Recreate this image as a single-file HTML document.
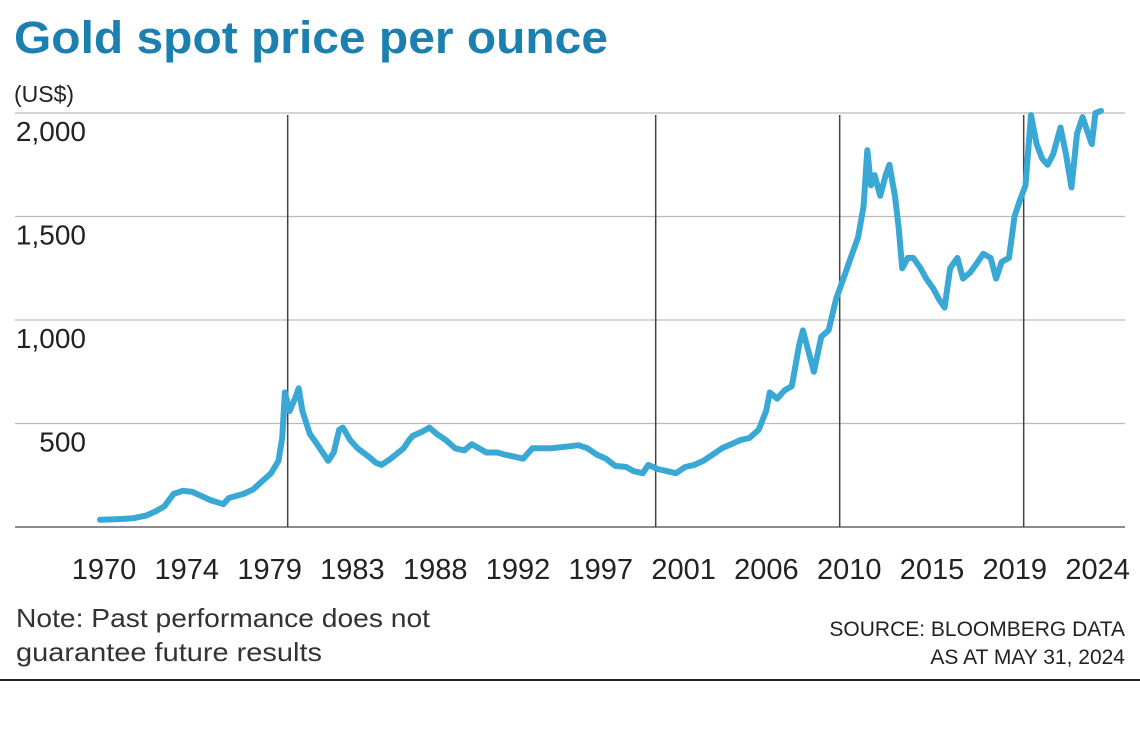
<!DOCTYPE html>
<html><head><meta charset="utf-8"><style>
body{margin:0;background:#fff;width:1140px;height:744px;overflow:hidden;font-family:"Liberation Sans",sans-serif}
svg text{font-family:"Liberation Sans",sans-serif}
</style></head><body>
<svg id="chart" width="1140" height="744" viewBox="0 0 1140 744">
<text x="14" y="53" font-size="45" font-weight="bold" fill="#1b7fb0" textLength="594" lengthAdjust="spacingAndGlyphs">Gold spot price per ounce</text>
<text x="14" y="102" font-size="23" fill="#222">(US$)</text>
<g id="grid"></g><g id="vlines"></g><g id="series"></g><g id="xt"></g><g id="yt"></g>
<text x="16" y="627" font-size="26" fill="#333" textLength="414" lengthAdjust="spacingAndGlyphs">Note: Past performance does not</text>
<text x="16" y="661" font-size="26" fill="#333" textLength="306" lengthAdjust="spacingAndGlyphs">guarantee future results</text>
<text x="1125" y="636" font-size="21" fill="#222" text-anchor="end">SOURCE: BLOOMBERG DATA</text>
<text x="1125" y="664" font-size="21" fill="#222" text-anchor="end">AS AT MAY 31, 2024</text>
<line x1="0" y1="680" x2="1140" y2="680" stroke="#222" stroke-width="2"/>
</svg>
<script>
const years=[1970,1971,1971.8,1972.5,1973,1973.5,1974,1974.5,1975,1975.5,1976,1976.7,1977,1977.8,1978.3,1978.8,1979.3,1979.7,1979.9,1980.05,1980.3,1980.6,1980.8,1981,1981.4,1981.8,1982.4,1982.7,1983,1983.2,1983.6,1984,1984.6,1985,1985.3,1985.8,1986.5,1986.8,1987,1987.5,1987.9,1988.3,1988.8,1989.3,1989.8,1990.2,1990.6,1991,1991.6,1992,1992.5,1993,1993.5,1994,1994.5,1995,1995.5,1996,1996.5,1997,1997.5,1998,1998.6,1999,1999.5,1999.8,2000.3,2000.8,2001.3,2001.8,2002.3,2002.8,2003.3,2003.8,2004.3,2004.8,2005.3,2005.8,2006.2,2006.4,2006.8,2007.2,2007.6,2008,2008.2,2008.5,2008.8,2009.2,2009.6,2010,2010.4,2010.8,2011.2,2011.5,2011.7,2011.9,2012.1,2012.4,2012.7,2012.9,2013.2,2013.4,2013.6,2013.9,2014.2,2014.6,2014.9,2015.3,2015.6,2015.9,2016.2,2016.6,2016.9,2017.3,2017.7,2018,2018.4,2018.7,2019,2019.4,2019.7,2020,2020.3,2020.6,2020.9,2021.2,2021.5,2021.8,2022.2,2022.5,2022.8,2023.1,2023.4,2023.7,2023.9,2024.1,2024.4];
const prices=[35,38,42,55,75,100,160,175,170,150,130,110,140,160,180,220,260,320,430,650,560,620,670,560,450,400,320,360,470,480,420,380,340,310,300,330,380,420,440,460,480,450,420,380,370,400,380,360,360,350,340,330,380,380,380,385,390,395,380,350,330,295,290,270,260,300,280,270,260,290,300,320,350,380,400,420,430,470,560,650,620,660,680,880,950,850,750,920,950,1100,1200,1300,1400,1550,1820,1650,1700,1600,1700,1750,1600,1450,1250,1300,1300,1250,1200,1150,1100,1060,1250,1300,1200,1230,1280,1320,1300,1200,1280,1300,1500,1580,1650,1990,1850,1780,1750,1800,1930,1800,1640,1900,1980,1900,1850,2000,2010];
const xTicks=["1970","1974","1979","1983","1988","1992","1997","2001","2006","2010","2015","2019","2024"];
const yTicks=[0,500,1000,1500,2000];
const yTickLabels=["","500","1,000","1,500","2,000"];
const markerYears=[1980.2,2000.2,2010.2,2020.2];
const NS="http://www.w3.org/2000/svg";
const X=y=>100+(y-1970)*18.4, Y=v=>527-v*103.5/500;
function mk(tag,attrs,parent){const e=document.createElementNS(NS,tag);for(const k in attrs)e.setAttribute(k,attrs[k]);parent.appendChild(e);return e;}
const g=document.getElementById('grid');
yTicks.forEach((v,i)=>{const l=mk('line',{x1:15,x2:1125,y1:Y(v),y2:Y(v),stroke:v===0?'#666':'#bbb','stroke-width':v===0?1.5:1.2},g);


const t=mk('text',{x:86,y:Y(v)+28,'font-size':28,'text-anchor':'end',fill:'#222'},document.getElementById('yt'));t.textContent=yTickLabels[i];

});
const vg=document.getElementById('vlines');
markerYears.forEach(yr=>{const l=mk('line',{x1:X(yr),x2:X(yr),y1:115,y2:527,stroke:'#444','stroke-width':1.5},vg);

});
xTicks.forEach((s,i)=>{const t=mk('text',{x:104+i*82.8,y:579,'font-size':29,'text-anchor':'middle',fill:'#222'},document.getElementById('xt'));t.textContent=s;

});
const p=mk('path',{d:years.map((y,i)=>(i?'L':'M')+X(y).toFixed(1)+','+Y(prices[i]).toFixed(1)).join(''),fill:'none',stroke:'#3aa8d4','stroke-width':6,'stroke-linejoin':'round','stroke-linecap':'round'},document.getElementById('series'));


</script>
</body></html>
